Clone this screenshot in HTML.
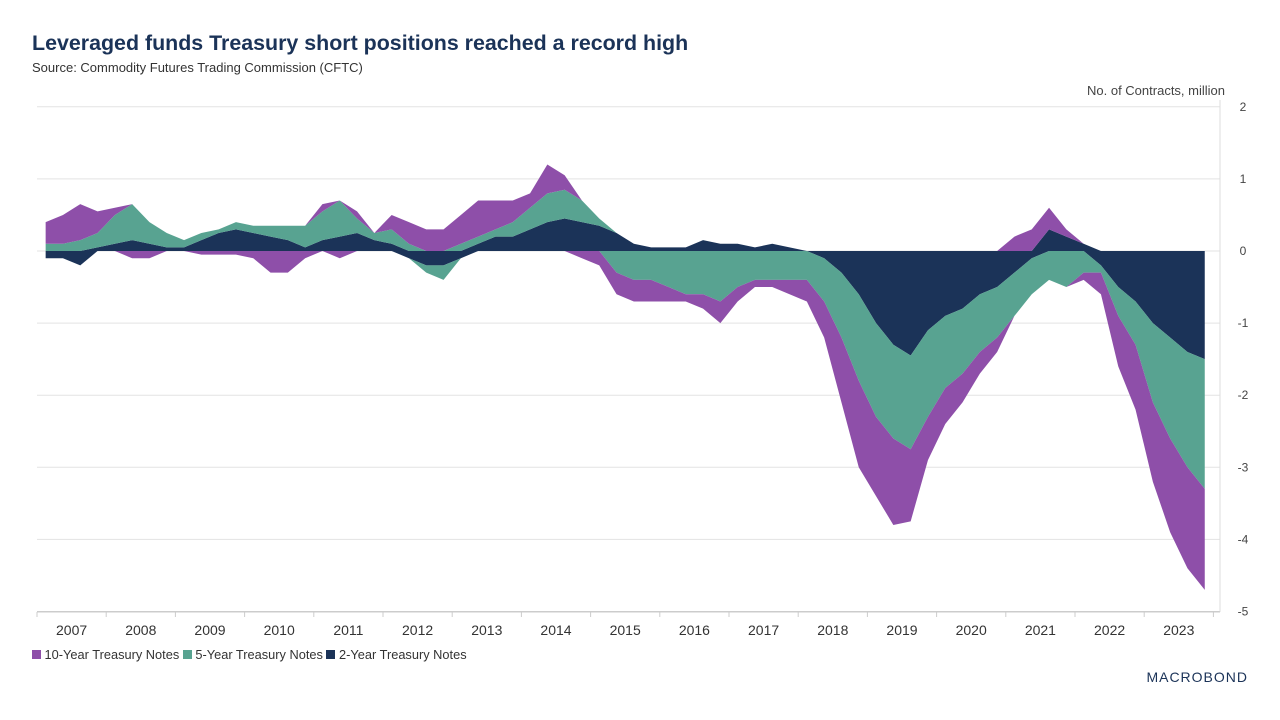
<!DOCTYPE html>
<html><head><meta charset="utf-8">
<style>
body{margin:0;width:1280px;height:720px;background:#fff;font-family:"Liberation Sans",sans-serif;overflow:hidden;position:relative}
.t{position:absolute;white-space:nowrap}
</style></head><body>
<div class="t" style="left:32px;top:31px;font-size:21.4px;font-weight:bold;color:#1b3358">Leveraged funds Treasury short positions reached a record high</div>
<div class="t" style="left:32px;top:60px;font-size:13px;color:#333">Source: Commodity Futures Trading Commission (CFTC)</div>
<div class="t" style="right:55px;top:83px;font-size:13px;color:#444">No. of Contracts, million</div>
<svg id="chart" width="1280" height="720" style="position:absolute;left:0;top:0"></svg>
<div class="t" style="left:32px;top:647px;font-size:12.8px;color:#333">
<span><span style="display:inline-block;width:9px;height:9px;background:#8e4fa9"></span> 10-Year Treasury Notes</span>
<span><span style="display:inline-block;width:9px;height:9px;background:#58a391"></span> 5-Year Treasury Notes</span>
<span><span style="display:inline-block;width:9px;height:9px;background:#1b3358"></span> 2-Year Treasury Notes</span>
</div>
<div class="t" style="right:32px;top:669px;font-size:14px;letter-spacing:1px;color:#1b3358">MACROBOND</div>
<script>
const years=[2007,2008,2009,2010,2011,2012,2013,2014,2015,2016,2017,2018,2019,2020,2021,2022,2023];
const yTicks=[2,1,0,-1,-2,-3,-4,-5];
const tenYear=[0.3,0.4,0.5,0.3, 0.1,-0.1,-0.1,0, 0,-0.05,-0.05,-0.05, -0.1,-0.3,-0.3,-0.1, 0.1,-0.1,0.1,0, 0.2,0.3,0.3,0.3, 0.4,0.5,0.4,0.3, 0.2,0.4,0.2,-0.1, -0.2,-0.3,-0.3,-0.3, -0.2,-0.1,-0.2,-0.3, -0.2,-0.1,-0.1,-0.2, -0.3,-0.5,-0.9,-1.2, -1.1,-1.2,-1.0,-0.6, -0.5,-0.4,-0.3,-0.2, 0.2,0.3,0.3,0.1, -0.1,-0.3,-0.7,-0.9, -1.1,-1.3,-1.4,-1.4];
const fiveYear=[0.1,0.1,0.15,0.2, 0.4,0.5,0.3,0.2, 0.1,0.1,0.05,0.1, 0.1,0.15,0.2,0.3, 0.4,0.5,0.2,0.1, 0.2,0.1,-0.1,-0.2, 0.1,0.1,0.1,0.2, 0.3,0.4,0.4,0.3, 0.1,-0.3,-0.4,-0.4, -0.5,-0.6,-0.6,-0.7, -0.5,-0.4,-0.4,-0.4, -0.4,-0.6,-0.9,-1.2, -1.3,-1.3,-1.3,-1.2, -1.0,-0.9,-0.8,-0.7, -0.6,-0.5,-0.4,-0.5, -0.3,-0.1,-0.4,-0.6, -1.1,-1.4,-1.6,-1.8];
const twoYear=[-0.1,-0.1,-0.2,0.05, 0.1,0.15,0.1,0.05, 0.05,0.15,0.25,0.3, 0.25,0.2,0.15,0.05, 0.15,0.2,0.25,0.15, 0.1,-0.1,-0.2,-0.2, -0.1,0.1,0.2,0.2, 0.3,0.4,0.45,0.4, 0.35,0.25,0.1,0.05, 0.05,0.05,0.15,0.1, 0.1,0.05,0.1,0.05, 0,-0.1,-0.3,-0.6, -1.0,-1.3,-1.45,-1.1, -0.9,-0.8,-0.6,-0.5, -0.3,-0.1,0.3,0.2, 0.1,-0.2,-0.5,-0.7, -1.0,-1.2,-1.4,-1.5];
const svg=document.getElementById('chart');const NS='http://www.w3.org/2000/svg';
const X0=37,YW=69.2,Y0=251,YU=72.1;
const xq=q=>X0+(q+0.5)*YW/4;
const yv=v=>Y0-v*YU;
function mk(t,a){const e=document.createElementNS(NS,t);for(const k in a)e.setAttribute(k,a[k]);svg.appendChild(e);return e;}
yTicks.forEach(v=>{
 const g=mk('line',{x1:X0,x2:1220,y1:yv(v),y2:yv(v),stroke:v===-5?'#ccc':'#e3e3e3','stroke-width':1});
 
 
 const t=mk('text',{x:1243,y:yv(v)+4,'text-anchor':'middle','font-size':12,fill:'#444','font-family':'Liberation Sans'});t.textContent=v;
 
 
});
mk('line',{x1:1220,x2:1220,y1:100,y2:612,stroke:'#ddd'});
const series=[[twoYear,'#1b3358','area-2yr'],[fiveYear,'#58a391','area-5yr'],[tenYear,'#8e4fa9','area-10yr']];
const n=twoYear.length;
(function(){
 const pB=new Array(n).fill(0),nB=new Array(n).fill(0);
 series.forEach(([d,c,name])=>{
  const pTop=[],pBot=[],nTop=[],nBot=[];
  for(let i=0;i<n;i++){const v=d[i];const x=xq(i);
   pBot.push(x+','+yv(pB[i]));nBot.push(x+','+yv(nB[i]));
   if(v>=0)pB[i]+=v;else nB[i]+=v;
   pTop.push(x+','+yv(pB[i]));nTop.push(x+','+yv(nB[i]));}
  const a=mk('polygon',{points:pTop.concat(pBot.reverse()).join(' '),fill:c});
  
  
  const b=mk('polygon',{points:nTop.concat(nBot.reverse()).join(' '),fill:c});
  
  
 });
})();
mk('line',{x1:X0,x2:1220,y1:612,y2:612,stroke:'#ccc'});
years.forEach((yr,i)=>{
 const x=X0+i*YW;
 mk('line',{x1:x,x2:x,y1:612,y2:617,stroke:'#ccc'});
 const t=mk('text',{x:x+YW/2,y:635,'text-anchor':'middle','font-size':14,fill:'#333','font-family':'Liberation Sans'});t.textContent=yr;
 
 
});
mk('line',{x1:X0+17*YW,x2:X0+17*YW,y1:612,y2:617,stroke:'#ccc'});
</script>
</body></html>
